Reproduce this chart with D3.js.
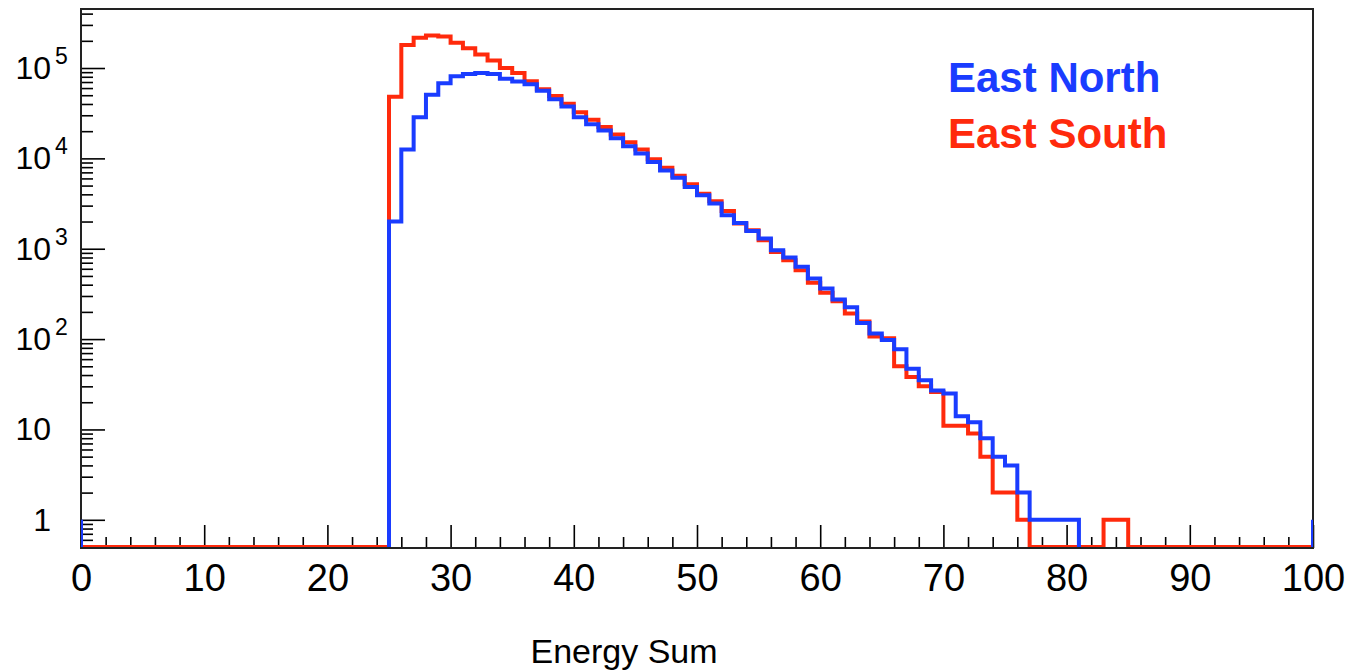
<!DOCTYPE html>
<html>
<head>
<meta charset="utf-8">
<script src="https://cdn.jsdelivr.net/npm/d3@7"></script>
<style>
  html, body { margin: 0; padding: 0; background: #fff; }
  svg { display: block; }
  text { font-family: "Liberation Sans", Arial, sans-serif; fill: #000; }
</style>
</head>
<body>
<svg id="chart" width="1346" height="671"></svg>
<script>
// Energy-sum spectra, 1-unit bins starting at energy 25 (all lower bins are empty)
const firstBin = 25;
const binCount = 100;

const eastNorth = [
  2000, 12500, 28600, 50600, 68000, 81000, 86000, 88000, 86000, 76000,
  71000, 66000, 56000, 45000, 37500, 28600, 23800, 20400, 16700, 13600,
  11300, 9100, 7360, 6120, 4820, 3900, 3160, 2340, 1930, 1570,
  1300, 962, 800, 630, 468, 363, 274, 225, 151, 115,
  98, 77, 47, 35, 27, 25, 14, 12, 8, 5,
  4, 2, 1, 1, 1, 1
];

const eastSouth = [
  48000, 180000, 216000, 229000, 223000, 190000, 166000, 141000, 121000, 100000,
  88000, 71500, 58300, 49000, 40200, 32500, 26800, 22200, 18400, 15100,
  12500, 9750, 7900, 6440, 5160, 4070, 3350, 2620, 1900, 1600,
  1240, 922, 747, 578, 419, 325, 263, 192, 157, 107,
  102, 50, 38, 30, 26, 11, 11, 9, 5, 2,
  2, 1, 0, 0, 0, 0, 0, 0, 1, 1
];

// under/overflow entries shown on the frame edges
const northEdges = [1, 1];
const southEdges = [0, 0];

const seriesNames = ["East North", "East South"];
const seriesColors = ["#1a3cff", "#ff2a0c"];

const xMajorTicks = [0, 10, 20, 30, 40, 50, 60, 70, 80, 90, 100];
const yMajorTicks = [1, 10, 100, 1000, 10000, 100000];
const yTickLabels = [
  { base: "1", exp: "" },
  { base: "10", exp: "" },
  { base: "10", exp: "2" },
  { base: "10", exp: "3" },
  { base: "10", exp: "4" },
  { base: "10", exp: "5" }
];
const xTitle = "Energy Sum";

// ---- layout ----
const plot = { left: 81, right: 1313, top: 9, bottom: 547 };
const svg = d3.select("#chart");

const x = d3.scaleLinear().domain([0, binCount]).range([plot.left, plot.right]);
const y = d3.scaleLog().domain([0.5, 4.5e5]).range([plot.bottom, plot.top]);

// ---- ticks ----
const minorY = y.ticks().filter(v => v > 0.5 && !yMajorTicks.includes(v));
const minorX = d3.range(0, binCount + 1, 2).filter(v => !xMajorTicks.includes(v));

const axisG = svg.append("g");

axisG.append("g")
  .attr("transform", `translate(${plot.left},0)`)
  .call(d3.axisLeft(y).tickValues(yMajorTicks).tickSize(-24).tickFormat(""))
  .call(g => g.select(".domain").remove());
axisG.append("g")
  .attr("transform", `translate(${plot.left},0)`)
  .call(d3.axisLeft(y).tickValues(minorY).tickSize(-12).tickFormat(""))
  .call(g => g.select(".domain").remove());

axisG.append("g")
  .attr("transform", `translate(0,${plot.bottom + 1})`)
  .call(d3.axisBottom(x).tickValues(xMajorTicks).tickSize(-23).tickPadding(16).tickFormat(d3.format("d")))
  .call(g => g.select(".domain").remove())
  .call(g => g.selectAll("text")
    .attr("font-family", "Liberation Sans, Arial, sans-serif")
    .attr("font-size", 38)
    .attr("fill", "#000"));
axisG.append("g")
  .attr("transform", `translate(0,${plot.bottom + 1})`)
  .call(d3.axisBottom(x).tickValues(minorX).tickSize(-11).tickFormat(""))
  .call(g => g.select(".domain").remove());

axisG.selectAll(".tick line").attr("stroke", "#000").attr("stroke-width", 1.6);

// y labels with superscript exponents
const yLab = svg.append("g");
yMajorTicks.forEach((v, i) => {
  const lab = yTickLabels[i];
  const yy = y(v) + 11;
  yLab.append("text")
    .attr("x", 51).attr("y", yy)
    .attr("text-anchor", "end")
    .attr("font-size", 32)
    .text(lab.base);
  if (lab.exp) {
    yLab.append("text")
      .attr("x", 55).attr("y", yy - 15)
      .attr("font-size", 23)
      .text(lab.exp);
  }
});

// ---- frame ----
svg.append("rect")
  .attr("x", plot.left).attr("y", plot.top)
  .attr("width", plot.right - plot.left)
  .attr("height", plot.bottom + 1 - plot.top)
  .attr("fill", "none").attr("stroke", "#222").attr("stroke-width", 2);

// ---- histograms ----
svg.append("defs").append("clipPath").attr("id", "plotClip")
  .append("rect")
  .attr("x", plot.left).attr("y", plot.top)
  .attr("width", plot.right - plot.left)
  .attr("height", plot.bottom - plot.top);

function fullBins(vals) {
  const out = new Array(binCount).fill(0);
  vals.forEach((v, i) => { out[firstBin + i] = v; });
  return out;
}

// empty bins of the overlay are pushed below the frame so only its edges show
function histPath(vals, edges, emptyPx) {
  const bins = fullBins(vals);
  const pts = [{ e: 0, v: edges[0] }];
  bins.forEach((v, i) => pts.push({ e: i, v }));
  pts.push({ e: binCount, v: bins[binCount - 1] });
  pts.push({ e: binCount, v: edges[1] });
  return d3.line()
    .x(d => x(d.e))
    .y(d => d.v > 0 ? y(d.v) : emptyPx)
    .curve(d3.curveStepAfter)(pts);
}

const hist = svg.append("g").attr("clip-path", "url(#plotClip)");

hist.append("path")
  .attr("d", histPath(eastSouth, southEdges, y(0.5)))
  .attr("fill", "none")
  .attr("stroke", seriesColors[1])
  .attr("stroke-width", 4);

hist.append("path")
  .attr("d", histPath(eastNorth, northEdges, plot.bottom + 12))
  .attr("fill", "none")
  .attr("stroke", seriesColors[0])
  .attr("stroke-width", 4);

// ---- axis title ----
svg.append("text")
  .attr("x", 624).attr("y", 663)
  .attr("text-anchor", "middle")
  .attr("font-size", 34)
  .text(xTitle);

// ---- legend ----
seriesNames.forEach((name, i) => {
  svg.append("text")
    .attr("x", 948).attr("y", 92 + i * 56)
    .attr("font-size", 42)
    .attr("font-weight", "bold")
    .style("fill", seriesColors[i])
    .text(name);
});
</script>
</body>
</html>
